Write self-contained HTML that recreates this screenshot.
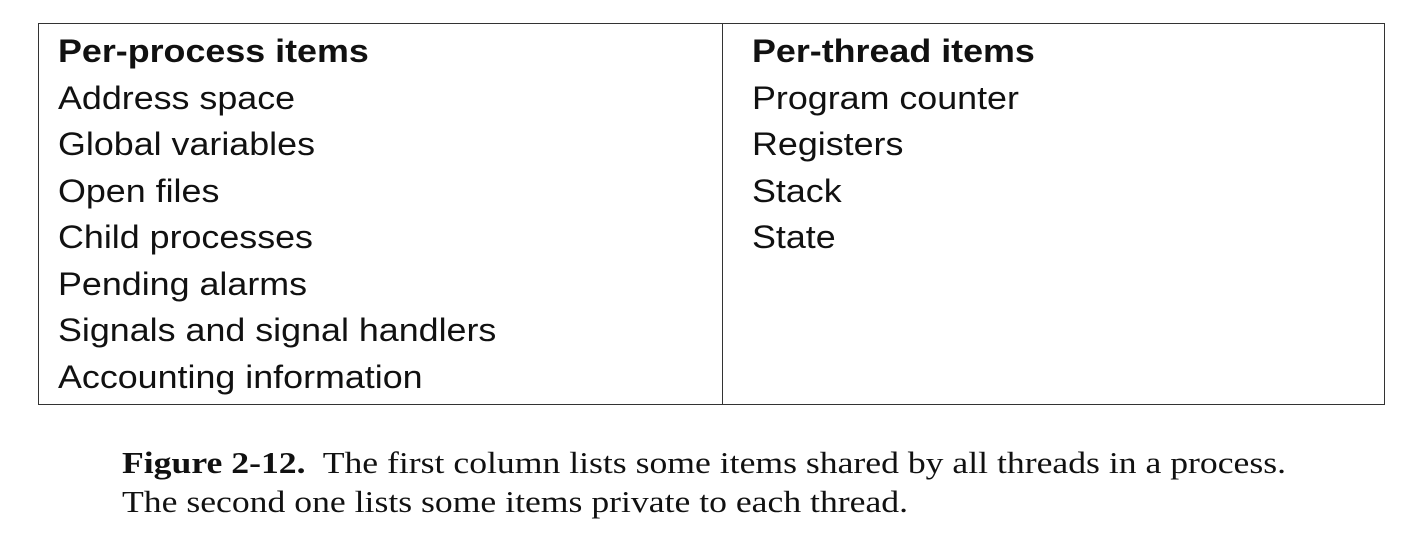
<!DOCTYPE html>
<html><head><style>
body{margin:0;width:1424px;height:538px;background:#fff;position:relative;overflow:hidden}
.box{position:absolute;left:38px;top:23px;width:1345px;height:380px;border:1.5px solid #333}
.div{position:absolute;left:722px;top:23px;width:0;height:382px;border-left:1.5px solid #333}
.col{position:absolute;top:28px;font-family:"Liberation Sans",sans-serif;font-size:32px;line-height:46.5px;color:#111;transform:scaleX(1.12);transform-origin:0 0;white-space:nowrap}
.cap{position:absolute;left:122px;top:443px;font-family:"Liberation Serif",serif;font-size:31px;line-height:39px;color:#111;transform:scaleX(1.15);transform-origin:0 0;white-space:nowrap}
</style></head><body>
<div class="box"></div><div class="div"></div>
<div class="col" style="left:58px"><b>Per-process items</b><br>Address space<br>Global variables<br>Open files<br>Child processes<br>Pending alarms<br>Signals and signal handlers<br>Accounting information</div>
<div class="col" style="left:752px"><b>Per-thread items</b><br>Program counter<br>Registers<br>Stack<br>State</div>
<div class="cap"><b>Figure 2-12.</b>&nbsp; The first column lists some items shared by all threads in a process.<br>The second one lists some items private to each thread.</div>
</body></html>
